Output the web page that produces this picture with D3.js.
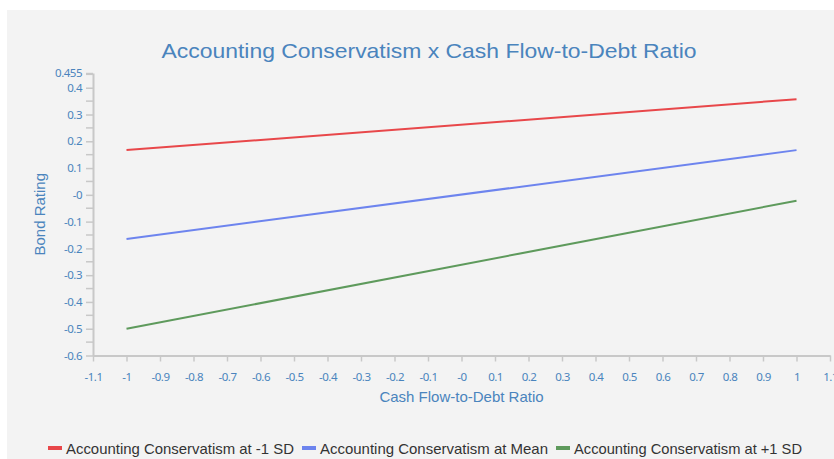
<!DOCTYPE html>
<html lang="en">
<head>
<meta charset="UTF-8">
<title>Accounting Conservatism x Cash Flow-to-Debt Ratio</title>
<script src="https://d3js.org/d3.v7.min.js"></script>
<style>
    body { margin: 0; background: #fff; }
    text { font-family: "Liberation Sans", Arial, sans-serif; }
    .tick-label { fill: #4a84bd; font-family: "Noto Sans", sans-serif; font-size: 11.5px; letter-spacing: -0.5px; }
</style>
</head>
<body>
<div id="chart"></div>
<script>
    // x values of the two end points
    const xValues = [-1, 1];
    const seriesNames = [
        "Accounting Conservatism at -1 SD",
        "Accounting Conservatism at Mean",
        "Accounting Conservatism at +1 SD"
    ];
    const lowSD = [0.167, 0.357];
    const meanSD = [-0.165, 0.167];
    const highSD = [-0.5, -0.022];
    const seriesColors = ["#e8474a", "#6d84ee", "#5e9a5c"];

    const xTicks = [-1.1, -1, -0.9, -0.8, -0.7, -0.6, -0.5, -0.4, -0.3, -0.2, -0.1, 0, 0.1, 0.2, 0.3, 0.4, 0.5, 0.6, 0.7, 0.8, 0.9, 1, 1.1];
    const xTickLabels = ["-1.1", "-1", "-0.9", "-0.8", "-0.7", "-0.6", "-0.5", "-0.4", "-0.3", "-0.2", "-0.1", "-0", "0.1", "0.2", "0.3", "0.4", "0.5", "0.6", "0.7", "0.8", "0.9", "1", "1.1"];
    const yTicks = [0.455, 0.4, 0.3, 0.2, 0.1, 0, -0.1, -0.2, -0.3, -0.4, -0.5, -0.6];
    const yTickLabels = ["0.455", "0.4", "0.3", "0.2", "0.1", "-0", "-0.1", "-0.2", "-0.3", "-0.4", "-0.5", "-0.6"];
    const yMinorTicks = [0.45, 0.35, 0.25, 0.15, 0.05, -0.05, -0.15, -0.25, -0.35, -0.45, -0.55];

    const W = 834, H = 459;
    const plot = { left: 93, right: 830, top: 73, bottom: 355.5 };

    const svg = d3.select("#chart").append("svg")
        .attr("width", W)
        .attr("height", H);

    // background
    svg.append("rect")
        .attr("x", 7).attr("y", 10)
        .attr("width", W - 7).attr("height", H - 10)
        .attr("fill", "#f3f3f3");

    const x = d3.scaleLinear().domain([-1.1, 1.1]).range([plot.left, plot.right]);
    const y = d3.scaleLinear().domain([-0.6, 0.455]).range([plot.bottom, plot.top]);

    // title
    svg.append("text")
        .attr("x", 429).attr("y", 58)
        .attr("text-anchor", "middle")
        .attr("font-size", "21px")
        .attr("fill", "#4a84bd")
        .attr("textLength", 535)
        .attr("lengthAdjust", "spacingAndGlyphs")
        .text("Accounting Conservatism x Cash Flow-to-Debt Ratio");

    // x axis
    const xAxis = svg.append("g")
        .attr("transform", `translate(0,${plot.bottom})`)
        .call(d3.axisBottom(x).tickValues(xTicks).tickSize(6).tickSizeOuter(0)
            .tickFormat((d, i) => xTickLabels[i]));
    xAxis.select(".domain").attr("stroke", "#c8c8c8").attr("stroke-width", 2);
    xAxis.selectAll(".tick line").attr("stroke", "#c8c8c8").attr("stroke-width", 1.5);
    xAxis.selectAll(".tick text").attr("class", "tick-label").attr("dy", "0.35em").attr("y", 21);

    // y axis
    const yAxis = svg.append("g")
        .attr("transform", `translate(${plot.left},0)`)
        .call(d3.axisLeft(y).tickValues(yTicks).tickSize(7).tickSizeOuter(0)
            .tickFormat((d, i) => yTickLabels[i]));
    yAxis.select(".domain").attr("stroke", "#c8c8c8").attr("stroke-width", 2);
    yAxis.selectAll(".tick line").attr("stroke", "#c8c8c8").attr("stroke-width", 1.5);
    yAxis.selectAll(".tick text").attr("class", "tick-label").attr("x", -11);

    yAxis.selectAll(".minor")
        .data(yMinorTicks)
        .enter()
        .append("line")
        .attr("class", "minor")
        .attr("x1", -7).attr("x2", 0)
        .attr("y1", d => y(d)).attr("y2", d => y(d))
        .attr("stroke", "#c8c8c8").attr("stroke-width", 1.5);

    // axis titles
    svg.append("text")
        .attr("transform", `translate(45,${(plot.top + plot.bottom) / 2}) rotate(-90)`)
        .attr("text-anchor", "middle")
        .attr("font-size", "15px")
        .attr("fill", "#4a84bd")
        .text("Bond Rating");

    svg.append("text")
        .attr("x", (plot.left + plot.right) / 2).attr("y", 402)
        .attr("text-anchor", "middle")
        .attr("font-size", "15px")
        .attr("fill", "#4a84bd")
        .text("Cash Flow-to-Debt Ratio");

    // lines
    const allSeries = [lowSD, meanSD, highSD];
    const line = d3.line()
        .x((d, i) => x(xValues[i]))
        .y(d => y(d));

    svg.selectAll(".series")
        .data(allSeries)
        .enter()
        .append("path")
        .attr("class", "series")
        .attr("d", d => line(d))
        .attr("fill", "none")
        .attr("stroke", (d, i) => seriesColors[i])
        .attr("stroke-width", 2);

    // legend
    const legendX = [48, 302, 556];
    const legend = svg.selectAll(".legend")
        .data(seriesNames)
        .enter()
        .append("g")
        .attr("class", "legend")
        .attr("transform", (d, i) => `translate(${legendX[i]},448)`);

    legend.append("rect")
        .attr("x", 0).attr("y", -2)
        .attr("width", 14).attr("height", 4)
        .attr("fill", (d, i) => seriesColors[i]);

    legend.append("text")
        .attr("x", 18).attr("y", 5.5)
        .attr("font-size", "15px")
        .attr("fill", "#333")
        .attr("textLength", 228)
        .attr("lengthAdjust", "spacingAndGlyphs")
        .text(d => d);
</script>
</body>
</html>
